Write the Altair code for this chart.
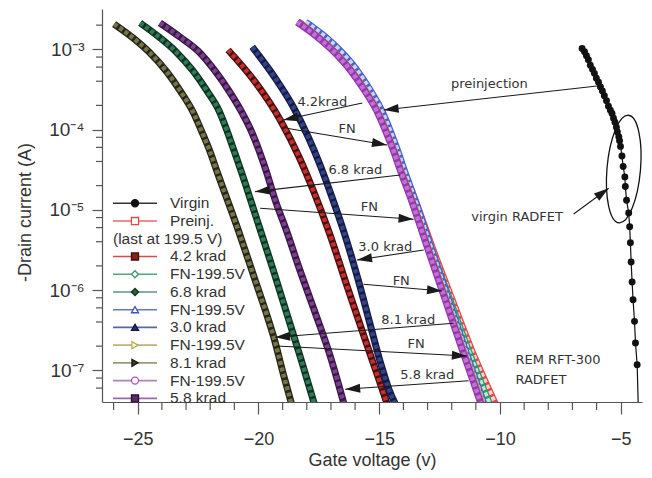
import math
import altair as alt
import pandas as pd

# ---------------- values ----------------
# gate voltage (V) and log10 of the drain current (A) of every curve
virgin_V = [-6.60, -6.50, -6.42, -6.34, -6.26, -6.17, -6.09, -6.01, -5.92, -5.84,
            -5.76, -5.68, -5.59, -5.51, -5.43, -5.36, -5.30, -5.24, -5.18, -5.14,
            -5.08, -5.05, -5.01, -4.95, -4.90, -4.83, -4.81, -4.76, -4.67, -4.63,
            -4.60, -4.57, -4.53, -4.49, -4.43, -4.39, -4.32, -4.06]
virgin_logI = [-2.99, -3.03, -3.08, -3.13, -3.20, -3.25, -3.30, -3.36, -3.41, -3.47,
               -3.52, -3.58, -3.64, -3.71, -3.76, -3.80, -3.86, -3.91, -3.97, -4.03,
               -4.09, -4.14, -4.21, -4.33, -4.46, -4.59, -4.71, -4.88, -5.04, -5.21,
               -5.41, -5.65, -5.90, -6.12, -6.39, -6.66, -6.93, -9.86]

band_logI = [-2.660, -2.834, -3.009, -3.258, -3.507, -3.757, -4.006, -4.255, -4.504,
             -4.878, -5.501, -6.124, -6.747, -7.432]
preinj_V = [-18.35, -17.55, -16.88, -16.12, -15.53, -15.02, -14.64, -14.30, -14.00,
            -13.52, -12.77, -11.98, -11.18, -10.17]
preinj_logI = band_logI
fn1_V = [-18.37, -17.57, -16.90, -16.15, -15.56, -15.06, -14.68, -14.34, -14.04,
         -13.57, -12.84, -12.08, -11.32, -10.42]
fn1_logI = band_logI
fn2_V = [-18.05, -17.28, -16.65, -15.93, -15.38, -14.91, -14.56, -14.25, -13.97,
         -13.52, -12.83, -12.13, -11.44, -10.65]
fn2_logI = band_logI
fn3_V = [-18.38, -17.59, -16.93, -16.18, -15.60, -15.10, -14.73, -14.40, -14.11,
         -13.65, -12.95, -12.23, -11.53, -10.72]
fn3_logI = band_logI
fn4_V = [-18.40, -17.61, -16.95, -16.20, -15.62, -15.12, -14.75, -14.42, -14.13,
         -13.67, -12.97, -12.26, -11.56, -10.77]
fn4_logI = band_logI

k42_V = [-21.26, -20.14, -19.10, -18.32, -17.69, -17.11, -16.28, -15.58, -15.08, -14.63]
k42_logI = [-3.009, -3.407, -3.881, -4.342, -4.791, -5.252, -5.999, -6.622, -7.058, -7.457]

k68_V = [-24.90, -24.12, -23.45, -22.71, -22.13, -21.63, -21.30, -21.01, -20.72, -20.06,
         -19.39, -18.77, -18.23, -17.65]
k68_logI = [-2.672, -2.847, -3.021, -3.270, -3.520, -3.769, -4.018, -4.267, -4.517, -5.127,
            -5.750, -6.349, -6.872, -7.457]

k30_V = [-20.26, -19.31, -18.56, -17.94, -17.45, -16.99, -16.49, -15.87, -15.37, -14.92,
         -14.59, -14.25]
k30_logI = [-2.971, -3.358, -3.719, -4.093, -4.442, -4.816, -5.252, -5.875, -6.436, -6.934,
            -7.245, -7.470]

k81_V = [-25.98, -25.19, -24.53, -23.79, -23.21, -22.71, -22.34, -22.00, -21.71, -20.84,
         -20.14, -19.68, -19.37, -18.94, -18.56]
k81_logI = [-2.685, -2.859, -3.034, -3.283, -3.532, -3.781, -4.031, -4.280, -4.529, -5.252,
            -5.875, -6.286, -6.585, -7.083, -7.495]

k58_V = [-24.08, -23.25, -22.50, -21.80, -21.22, -20.72, -20.30, -19.97, -19.68, -19.31,
         -18.85, -18.36, -17.65, -17.07, -16.62, -16.45]
k58_logI = [-2.672, -2.847, -3.021, -3.270, -3.520, -3.769, -4.018, -4.267, -4.517, -4.878,
            -5.252, -5.688, -6.286, -6.784, -7.245, -7.432]

legend_labels = ["Virgin", "Preinj.", "(last at 199.5 V)", "4.2 krad", "FN-199.5V", "6.8 krad",
                 "FN-199.5V", "3.0 krad", "FN-199.5V", "8.1 krad", "FN-199.5V", "5.8 krad"]

x_ticks = [-25, -20, -15, -10, -5]
y_ticks = [1e-7, 1e-6, 1e-5, 1e-4, 1e-3]

# annotations: arrow start (V, log10 I) -> arrow tip (V, log10 I)
arrow_start_V = [-5.98, -15.70, -18.83, -14.13, -19.93, -6.95, -13.16, -15.65, -11.92, -19.24, -11.30]
arrow_start_logI = [-3.457, -3.669, -3.984, -4.566, -4.981, -5.052, -5.501, -5.928, -6.414, -6.697, -7.130]
arrow_tip_V = [-14.82, -18.97, -14.68, -20.14, -13.58, -5.50, -15.92, -12.40, -19.31, -11.37, -16.41]
arrow_tip_logI = [-3.757, -3.881, -4.193, -4.774, -5.118, -4.732, -5.626, -6.012, -6.589, -6.822, -7.237]

note_text = ["preinjection", "4.2krad", "FN", "6.8 krad", "FN", "virgin RADFET",
             "3.0 krad", "FN", "8.1 krad", "FN", "5.8 krad"]
note_V = [-10.44, -17.36, -16.33, -15.99, -15.41, -9.29, -14.75, -14.09, -13.80, -13.47, -13.01]
note_logI = [-3.43, -3.657, -3.993, -4.504, -4.965, -5.086, -5.464, -5.887, -6.373, -6.672, -7.058]

device_text = ["REM RFT-300", "RADFET"]
device_V = [-9.36, -9.36]
device_logI = [-6.872, -7.121]

ellipse_V = [-4.876]
ellipse_logI = [-4.492]

# ---------------- layout ----------------
X_DOM = [-26.48, -4.12]
LOG_DOM = [-7.395, -2.498]
W, H = 540, 393
PX_V = W / (X_DOM[1] - X_DOM[0])
PX_DEC = H / (LOG_DOM[1] - LOG_DOM[0])

FONT = "Liberation Sans"
NOTE_FONT = "DejaVu Sans"

x_scale = alt.Scale(domain=X_DOM, nice=False, zero=False)
y_scale = alt.Scale(type="log", domain=[10 ** LOG_DOM[0], 10 ** LOG_DOM[1]], nice=False)

x_axis = alt.Axis(values=x_ticks, title="Gate voltage (v)", grid=False, tickSize=12,
                  labelFont=FONT, labelFontSize=18, labelColor="#333", labelPadding=16,
                  labelFlush=False, titleFont=FONT, titleFontSize=18, titleFontWeight="normal",
                  titleColor="#333", titleY=63, titleBaseline="alphabetic",
                  domainColor="#555", tickColor="#555", domainWidth=1.2, tickWidth=1.2)
y_label_expr = ("datum.value < 3e-7 ? '10⁻⁷' : datum.value < 3e-6 ? '10⁻⁶' : "
                "datum.value < 3e-5 ? '10⁻⁵' : datum.value < 3e-4 ? '10⁻⁴' : '10⁻³'")
y_axis = alt.Axis(values=y_ticks, labelExpr=y_label_expr, title="-Drain current (A)", grid=False,
                  tickSize=10, labelFont=FONT, labelFontSize=19, labelColor="#333", labelPadding=8,
                  labelFlush=False, titleFont=FONT, titleFontSize=18, titleFontWeight="normal",
                  titleColor="#333", titleX=-77, titleY=203, titleAlign="center",
                  titleBaseline="middle", domainColor="#555", tickColor="#555",
                  domainWidth=1.2, tickWidth=1.2)

X = alt.X("V:Q", scale=x_scale, axis=x_axis)
Y = alt.Y("I:Q", scale=y_scale, axis=y_axis)


def px2v(px):
    return X_DOM[0] + (px - 102) / PX_V


def py2i(py):
    return 10 ** (LOG_DOM[1] - (py - 9) / PX_DEC)


def curve_df(V, logI):
    return pd.DataFrame({"V": V, "I": [10 ** e for e in logI], "i": list(range(len(V)))})


layers = []


def add_curve(V, logI, edge, fill, we=7.0, wf=4.5):
    base = alt.Chart(curve_df(V, logI))
    layers.append(base.mark_line(color=edge, strokeWidth=we, interpolate="monotone", clip=True)
                  .encode(x=X, y=Y, order="i:Q"))
    layers.append(base.mark_line(color=fill, strokeWidth=wf, strokeDash=[4, 2.5],
                                 interpolate="monotone", clip=True)
                  .encode(x=X, y=Y, order="i:Q"))


# band of preinjection / FN curves
add_curve(preinj_V, preinj_logI, "#e04a4a", "#f7d0d0")
add_curve(fn1_V, fn1_logI, "#2f9a66", "#c4e8d2")
add_curve(fn2_V, fn2_logI, "#4a62c8", "#cdd4f2")
add_curve(fn3_V, fn3_logI, "#b4ac48", "#ece8b8")
add_curve(fn4_V, fn4_logI, "#9438ac", "#c46fd6")
# irradiated curves
add_curve(k81_V, k81_logI, "#26261a", "#78744a")
add_curve(k68_V, k68_logI, "#0f3322", "#2f7a55")
add_curve(k58_V, k58_logI, "#3a1848", "#7d3f8f")
add_curve(k42_V, k42_logI, "#4a1010", "#c42e2e")
add_curve(k30_V, k30_logI, "#141c44", "#33428a")

# virgin curve
vdf = curve_df(virgin_V, virgin_logI)
layers.append(alt.Chart(vdf).mark_line(color="#111", strokeWidth=1.2, clip=True)
              .encode(x=X, y=Y, order="i:Q"))
layers.append(alt.Chart(vdf).mark_point(shape="circle", filled=True, size=48, color="#111",
                                        opacity=1, clip=True).encode(x=X, y=Y))

# minor ticks
minor_I = [m * 10 ** d for d in range(-8, -2) for m in (2, 4, 6, 8)
           if 10 ** LOG_DOM[0] <= m * 10 ** d <= 10 ** LOG_DOM[1]]
minor_V = [v for v in range(-26, -4) if v % 5 != 0]
layers.append(alt.Chart(pd.DataFrame({"I": minor_I})).mark_rule(color="#555", strokeWidth=1.2, clip=False)
              .encode(y=Y, x=alt.value(-6), x2=alt.value(0)))
layers.append(alt.Chart(pd.DataFrame({"V": minor_V})).mark_rule(color="#555", strokeWidth=1.2, clip=False)
              .encode(x=X, y=alt.value(H), y2=alt.value(H + 8)))

# arrows
ang = []
for v1, e1, v2, e2 in zip(arrow_start_V, arrow_start_logI, arrow_tip_V, arrow_tip_logI):
    dx = (v2 - v1) * PX_V
    dy = -(e2 - e1) * PX_DEC
    ang.append(math.degrees(math.atan2(dy, dx)) % 360)
adf = pd.DataFrame({"V": arrow_start_V, "I": [10 ** e for e in arrow_start_logI],
                    "V2": arrow_tip_V, "I2": [10 ** e for e in arrow_tip_logI], "angle": ang})
layers.append(alt.Chart(adf).mark_rule(color="#1a1a1a", strokeWidth=1.1)
              .encode(x=X, y=Y, x2="V2:Q", y2="I2:Q"))
hdf = pd.DataFrame({"V": arrow_tip_V, "I": [10 ** e for e in arrow_tip_logI], "angle": ang})
ARROW = "M0,0L-1,-0.3L-1,0.3Z"
layers.append(alt.Chart(hdf).mark_point(shape=ARROW, filled=True, size=900, color="#1a1a1a", opacity=1)
              .encode(x=X, y=Y, angle=alt.Angle("angle:Q", scale=None)))

# ellipse around the virgin curve
ELLIPSE = "M-0.31,0A0.31,1,0,1,0,0.31,0A0.31,1,0,1,0,-0.31,0Z"
layers.append(alt.Chart(pd.DataFrame({"V": ellipse_V, "I": [10 ** e for e in ellipse_logI]}))
              .mark_point(shape=ELLIPSE, size=11664, filled=False, stroke="#111", strokeWidth=1.3,
                          angle=5, opacity=1)
              .encode(x=X, y=Y))

# annotation texts
tdf = pd.DataFrame({"t": note_text, "V": note_V, "I": [10 ** e for e in note_logI]})
layers.append(alt.Chart(tdf).mark_text(font=NOTE_FONT, fontSize=13, color="#333", align="center",
                                       baseline="middle").encode(x=X, y=Y, text="t:N"))
ddf = pd.DataFrame({"t": device_text, "V": device_V, "I": [10 ** e for e in device_logI]})
layers.append(alt.Chart(ddf).mark_text(font=NOTE_FONT, fontSize=13, color="#333", align="left",
                                       baseline="middle").encode(x=X, y=Y, text="t:N"))

# legend (drawn inside the plot)
leg_style = [
    ("#333333", "circle", "#111111", "#111111"),
    ("#e8686a", "square", "#ffffff", "#e04848"),
    None,
    ("#d84a4a", "square", "#8a1f1f", "#3a1010"),
    ("#4caa7c", "diamond", "#ffffff", "#3c9a6c"),
    ("#5a9a7a", "diamond", "#2a6040", "#10301a"),
    ("#6a7ac0", "triangle-up", "#ffffff", "#4050c0"),
    ("#5a68a0", "triangle-up", "#2a3468", "#101838"),
    ("#bab47a", "triangle-right", "#ffffff", "#b8b050"),
    ("#9a9a7a", "triangle-right", "#3a3a30", "#1a1a10"),
    ("#b080c0", "circle", "#ffffff", "#b050c0"),
    ("#9a6aaa", "square", "#5a2a6a", "#2a1030"),
]
rows = []
texts = []
for k, (lab, st) in enumerate(zip(legend_labels, leg_style)):
    py = 203.3 + k * 17.73
    if st is None:
        texts.append({"t": lab, "V": px2v(113), "I": py2i(py)})
        continue
    rows.append({"V": px2v(113), "V2": px2v(157), "Vm": px2v(135), "I": py2i(py),
                 "lc": st[0], "shape": st[1], "fill": st[2], "stroke": st[3]})
    texts.append({"t": lab, "V": px2v(170), "I": py2i(py)})
ldf = pd.DataFrame(rows)
layers.append(alt.Chart(ldf).mark_rule(strokeWidth=1.6)
              .encode(x=X, x2="V2:Q", y=Y, color=alt.Color("lc:N", scale=None)))
layers.append(alt.Chart(ldf).mark_point(size=50, strokeWidth=1.3, opacity=1)
              .encode(x=alt.X("Vm:Q", scale=x_scale, axis=x_axis), y=Y,
                      shape=alt.Shape("shape:N", scale=None),
                      fill=alt.Fill("fill:N", scale=None),
                      stroke=alt.Stroke("stroke:N", scale=None)))
layers.append(alt.Chart(pd.DataFrame(texts)).mark_text(font=FONT, fontSize=15.5, color="#333",
                                                        align="left", baseline="middle")
              .encode(x=X, y=Y, text="t:N"))

chart = (alt.layer(*layers)
         .properties(width=W, height=H,
                     padding={"left": 94, "top": 1, "right": 2, "bottom": 68},
                     autosize=alt.AutoSizeParams(type="none"))
         .configure_view(stroke=None))

chart.save("out.html", embed_options={"renderer": "svg", "actions": False})
